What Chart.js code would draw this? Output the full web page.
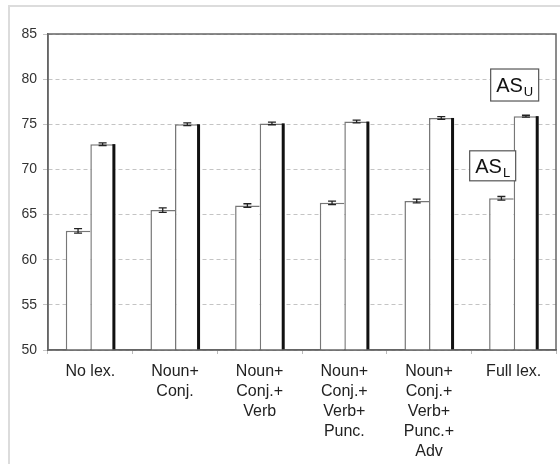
<!DOCTYPE html>
<html lang="en">
<head>
    <meta charset="UTF-8">
    <title>AS_L / AS_U by lexicalisation</title>
    <style>
        body { margin: 0; background: #fff; }
        canvas { display: block; }
    </style>
</head>
<body>
    <canvas id="myChart" width="560" height="464"></canvas>
    <script src="https://cdn.jsdelivr.net/npm/chart.js@4/dist/chart.umd.min.js"></script>
    <script>
        // data
        var labels = [
            ["No lex."],
            ["Noun+", "Conj."],
            ["Noun+", "Conj.+", "Verb"],
            ["Noun+", "Conj.+", "Verb+", "Punc."],
            ["Noun+", "Conj.+", "Verb+", "Punc.+", "Adv"],
            ["Full lex."]
        ];
        var asL = [63.2, 65.5, 66.0, 66.3, 66.5, 66.8];
        var asU = [72.8, 75.0, 75.1, 75.3, 75.7, 75.9];
        var errL = [0.25, 0.25, 0.2, 0.2, 0.2, 0.2];
        var errU = [0.15, 0.15, 0.15, 0.15, 0.15, 0.1];
        var yTicks = [50, 55, 60, 65, 70, 75, 80, 85];

        var font = "'Liberation Sans', Arial, sans-serif";

        // light frame round the whole figure
        var framePlugin = {
            id: 'frame',
            beforeDraw: function (chart) {
                var ctx = chart.ctx;
                ctx.save();
                ctx.fillStyle = '#fff';
                ctx.fillRect(0, 0, chart.width, chart.height);
                ctx.strokeStyle = '#dcdcdc';
                ctx.lineWidth = 2;
                ctx.strokeRect(9, 6, 600, 600);
                ctx.restore();
            }
        };

        // thick right edge on AS_U bars, error bars, plot box, labels
        var extrasPlugin = {
            id: 'extras',
            afterDatasetsDraw: function (chart) {
                var ctx = chart.ctx;
                var y = chart.scales.y;
                var area = chart.chartArea;
                ctx.save();

                var metaU = chart.getDatasetMeta(1);
                ctx.fillStyle = '#111';
                metaU.data.forEach(function (bar) {
                    var p = bar.getProps(['x', 'y', 'width'], true);
                    ctx.fillRect(p.x + p.width / 2 - 2.5, p.y, 3, area.bottom - p.y);
                });

                var errs = [errL, errU];
                ctx.strokeStyle = '#222';
                ctx.lineWidth = 1.3;
                [0, 1].forEach(function (di) {
                    var meta = chart.getDatasetMeta(di);
                    var vals = chart.data.datasets[di].data;
                    meta.data.forEach(function (bar, i) {
                        var p = bar.getProps(['x'], true);
                        var hi = y.getPixelForValue(vals[i] + errs[di][i]);
                        var lo = y.getPixelForValue(vals[i] - errs[di][i]);
                        ctx.beginPath();
                        ctx.moveTo(p.x, hi); ctx.lineTo(p.x, lo);
                        ctx.moveTo(p.x - 4, hi); ctx.lineTo(p.x + 4, hi);
                        ctx.moveTo(p.x - 4, lo); ctx.lineTo(p.x + 4, lo);
                        ctx.stroke();
                    });
                });

                ctx.strokeStyle = '#666';
                ctx.lineWidth = 1.5;
                ctx.strokeRect(area.left, area.top, area.right - area.left, area.bottom - area.top);

                // series labels
                var x = chart.scales.x;
                var last = labels.length - 1;
                drawTag(ctx, 'AS', 'U', x.getPixelForValue(last) + 1, y.getPixelForValue(79.35), 48, 32);
                drawTag(ctx, 'AS', 'L', x.getPixelForValue(last) - 21, y.getPixelForValue(70.4), 46, 30);
                ctx.restore();
            }
        };

        function drawTag(ctx, main, sub, cx, cy, w, h) {
            ctx.fillStyle = '#fff';
            ctx.fillRect(cx - w / 2, cy - h / 2, w, h);
            ctx.strokeStyle = '#555';
            ctx.lineWidth = 1.2;
            ctx.strokeRect(cx - w / 2, cy - h / 2, w, h);
            ctx.fillStyle = '#111';
            ctx.font = '20px ' + font;
            ctx.textBaseline = 'alphabetic';
            ctx.textAlign = 'left';
            var mw = ctx.measureText(main).width;
            ctx.font = '13px ' + font;
            var sw = ctx.measureText(sub).width;
            var sx = cx - (mw + sw + 1) / 2;
            ctx.font = '20px ' + font;
            ctx.fillText(main, sx, cy + 7);
            ctx.font = '13px ' + font;
            ctx.fillText(sub, sx + mw + 1, cy + 11);
        }

        var myChart = document.getElementById('myChart').getContext('2d');

        var chart = new Chart(myChart, {
            type: 'bar',
            data: {
                labels: labels,
                datasets: [
                    {
                        label: 'AS_L',
                        data: asL,
                        backgroundColor: '#fff',
                        borderColor: '#777',
                        borderWidth: { left: 1.5, top: 1.5, right: 0, bottom: 0 },
                        borderSkipped: false,
                        categoryPercentage: 0.58,
                        barPercentage: 1.0
                    },
                    {
                        label: 'AS_U',
                        data: asU,
                        backgroundColor: '#fff',
                        borderColor: '#777',
                        borderWidth: { left: 1.5, top: 1.5, right: 0, bottom: 0 },
                        borderSkipped: false,
                        categoryPercentage: 0.58,
                        barPercentage: 1.0
                    }
                ]
            },
            options: {
                responsive: false,
                animation: false,
                layout: { padding: { left: 0, right: 4, top: 34, bottom: 0 } },
                plugins: {
                    legend: { display: false },
                    tooltip: { enabled: false }
                },
                scales: {
                    x: {
                        afterFit: function (scale) { scale.height = 114; },
                        border: { display: true, color: '#666', width: 1.5 },
                        grid: {
                            display: true,
                            offset: true,
                            drawOnChartArea: false,
                            drawTicks: true,
                            tickLength: 4,
                            color: '#bbb'
                        },
                        ticks: {
                            color: '#222',
                            padding: 8,
                            maxRotation: 0,
                            autoSkip: false,
                            font: { family: font, size: 16, lineHeight: 1.25 }
                        }
                    },
                    y: {
                        min: 50,
                        max: 85,
                        afterFit: function (scale) { scale.width = 48; },
                        afterBuildTicks: function (scale) {
                            scale.ticks = yTicks.map(function (v) { return { value: v }; });
                        },
                        border: { display: true, color: '#666', width: 1.5 },
                        grid: {
                            color: '#c4c4c4',
                            lineWidth: 1,
                            tickLength: 5,
                            drawTicks: true
                        },
                        ticks: {
                            color: '#333',
                            padding: 6,
                            font: { family: font, size: 14 }
                        }
                    }
                }
            },
            plugins: [framePlugin, extrasPlugin]
        });
        // dashed horizontal grid
        chart.options.scales.y.border.dash = [4, 3];
        chart.update();
    </script>
</body>
</html>
